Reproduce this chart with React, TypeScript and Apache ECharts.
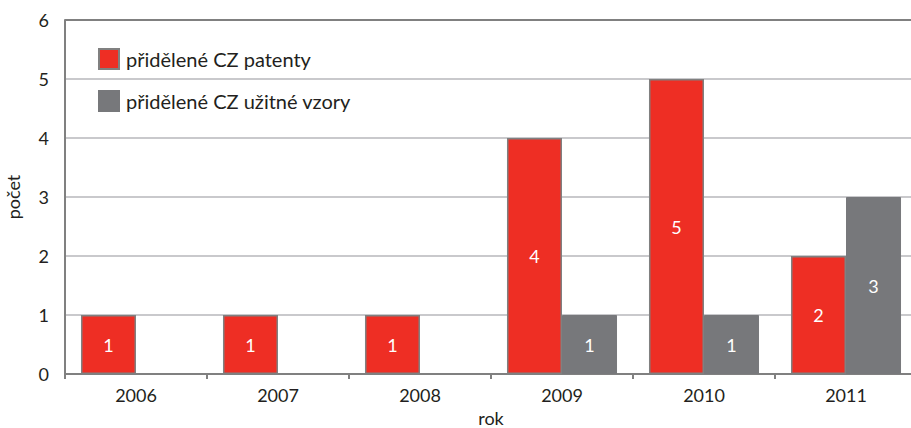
import React, { useEffect, useRef } from "react";
import * as echarts from "echarts";

const categories = ["2006", "2007", "2008", "2009", "2010", "2011"];
const patenty = [1, 1, 1, 4, 5, 2];
const vzory = [null, null, null, 1, 1, 3];
const seriesNames = ["přidělené CZ patenty", "přidělené CZ užitné vzory"];
const yTicks = [0, 1, 2, 3, 4, 5, 6];

const FONT = "Lato, 'Open Sans', sans-serif";
const TEXT = "#231f20";

export default function App() {
  const ref = useRef<HTMLDivElement>(null);
  useEffect(() => {
    document.body.style.margin = "0";
    const chart = echarts.init(ref.current!, null, { renderer: "svg" });
    const labelStyle = {
      show: true,
      position: "inside" as const,
      color: "#ffffff",
      fontSize: 18,
      fontFamily: FONT,
    };
    chart.setOption({
      animation: false,
      textStyle: { fontFamily: FONT, color: TEXT },
      legend: {
        orient: "vertical",
        left: 98,
        top: 48,
        padding: 0,
        itemWidth: 20,
        itemHeight: 20,
        itemGap: 20,
        icon: "rect",
        textStyle: { fontSize: 20, color: TEXT, fontFamily: FONT, padding: [0, 0, 0, 2] },
        data: seriesNames,
      },
      grid: {
        left: 65,
        top: 20,
        width: 852,
        height: 354,
        containLabel: false,
        outerBoundsMode: "none",
      },
      xAxis: {
        type: "category",
        data: categories,
        name: "rok",
        nameLocation: "middle",
        nameGap: 33,
        nameTextStyle: { fontSize: 18, color: TEXT, fontFamily: FONT },
        axisLine: { lineStyle: { color: "#808080", width: 2 } },
        axisTick: { show: true, length: 5, lineStyle: { color: "#808080", width: 2 } },
        axisLabel: { fontSize: 18, color: TEXT, margin: 12, fontFamily: FONT },
      },
      yAxis: {
        type: "value",
        min: 0,
        max: 6,
        interval: 1,
        name: "počet",
        nameLocation: "middle",
        nameGap: 43,
        nameRotate: 90,
        nameTextStyle: { fontSize: 18, color: TEXT, fontFamily: FONT },
        axisLine: { show: true, lineStyle: { color: "#808080", width: 2 } },
        axisTick: { show: false },
        axisLabel: {
          fontSize: 18,
          color: TEXT,
          margin: 16,
          fontFamily: FONT,
          formatter: (v: number) => (yTicks.includes(v) ? String(v) : ""),
        },
        splitLine: {
          show: true,
          lineStyle: {
            color: ["#c9c9cc", "#c9c9cc", "#c9c9cc", "#c9c9cc", "#c9c9cc", "#c9c9cc", "#808080"],
            width: 2,
          },
        },
      },
      series: [
        {
          name: seriesNames[0],
          type: "bar",
          data: patenty,
          barGap: "0%",
          barCategoryGap: "22.5%",
          itemStyle: { color: "#ee2e24", borderColor: "#808080", borderWidth: 1.5 },
          label: labelStyle,
        },
        {
          name: seriesNames[1],
          type: "bar",
          data: vzory,
          barGap: "0%",
          barCategoryGap: "22.5%",
          itemStyle: { color: "#77787b", borderColor: "#77787b", borderWidth: 1 },
          label: labelStyle,
        },
      ],
    });
    return () => chart.dispose();
  }, []);
  return <div ref={ref} style={{ width: 911, height: 428 }} />;
}
